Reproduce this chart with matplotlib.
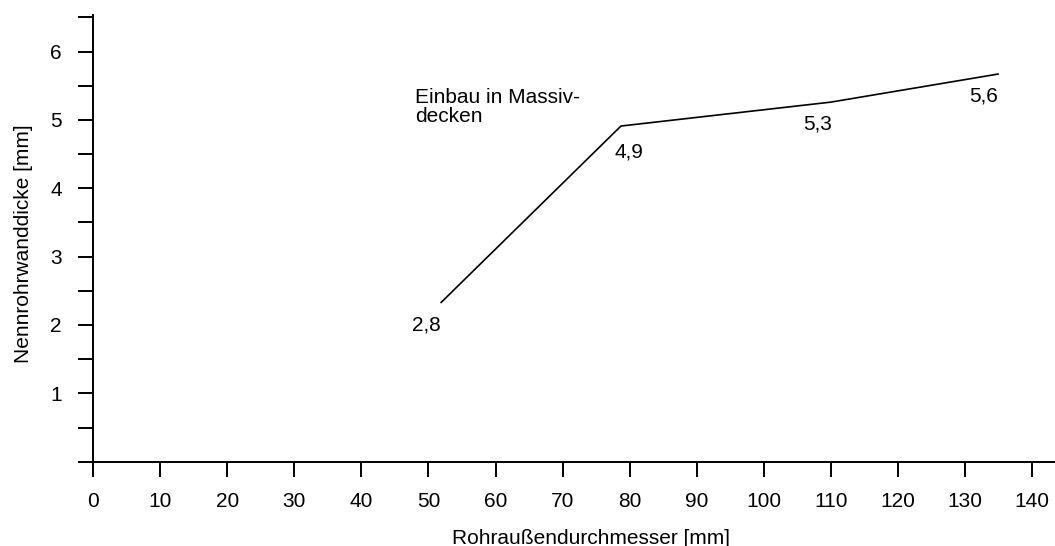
import matplotlib
matplotlib.use("Agg")
import matplotlib.pyplot as plt
from matplotlib.ticker import MultipleLocator

plt.rcParams['font.family'] = ['Liberation Sans', 'DejaVu Sans']

# Data
durchmesser = [51.9, 78.7, 110.0, 134.9]        # Rohraußendurchmesser [mm]
wanddicke = [2.33, 4.91, 5.26, 5.67]            # drawn line values [mm]
point_labels = ["2,8", "4,9", "5,3", "5,6"]     # printed labels
x_ticks = list(range(0, 141, 10))
y_ticks = [0, 1, 2, 3, 4, 5, 6]
y_tick_labels = ["", "1", "2", "3", "4", "5", "6"]

FS = 15

fig = plt.figure(figsize=(10.55, 5.46), dpi=100)
ax = fig.add_axes([93 / 1055, 1 - 461.7 / 546, 1 - 93 / 1055, (461.7 - 14.6) / 546])

ax.plot(durchmesser, wanddicke, color='black', lw=1.2, solid_joinstyle='miter')

label_offsets = [(-15, -23), (8, -26), (-13, -22), (-14, -22)]
for x, y, t, off in zip(durchmesser, wanddicke, point_labels, label_offsets):
    ax.annotate(t, (x, y), xytext=off, textcoords='offset pixels',
                ha='center', va='center', fontsize=FS)

ax.text(48.0, 5.47, "Einbau in Massiv-\ndecken", ha='left', va='top',
        fontsize=FS, linespacing=1.05)

ax.set_xlim(0, 143.4)
ax.set_ylim(0, 6.54)
ax.set_xticks(x_ticks)
ax.set_xticklabels([str(v) for v in x_ticks])
ax.set_yticks(y_ticks)
ax.set_yticklabels(y_tick_labels)
ax.yaxis.set_minor_locator(MultipleLocator(0.5))

for s in ['top', 'right']:
    ax.spines[s].set_visible(False)
for s in ['left', 'bottom']:
    ax.spines[s].set_linewidth(1.4)

ax.tick_params(axis='both', which='both', direction='out', length=10.5, width=1.4,
               labelsize=FS)
ax.tick_params(axis='x', pad=11)
ax.tick_params(axis='y', pad=12)

ax.set_xlabel("Rohraußendurchmesser [mm]", fontsize=FS, va='center')
ax.xaxis.set_label_coords((591.5 - 93) / 962, (461.7 - 538) / 447)
ax.set_ylabel("Nennrohrwanddicke [mm]", fontsize=FS, va='center')
ax.yaxis.set_label_coords((24 - 93) / 962, (461.7 - 244) / 447)

fig.savefig("out.png", dpi=100)
